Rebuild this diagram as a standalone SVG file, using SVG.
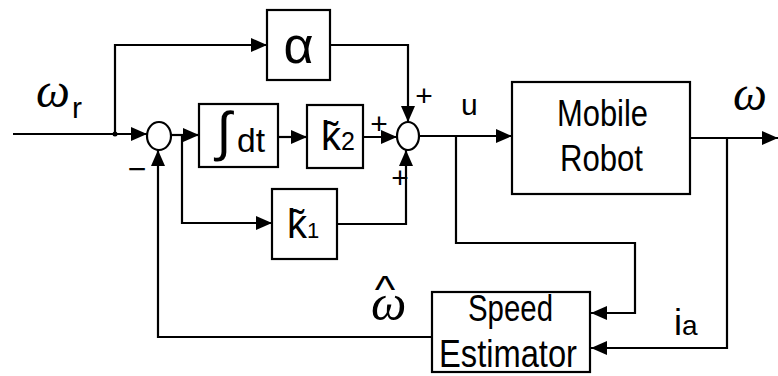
<svg xmlns="http://www.w3.org/2000/svg" width="778" height="376" viewBox="0 0 778 376">
<defs>
<marker id="arr" markerUnits="userSpaceOnUse" markerWidth="16" markerHeight="14" refX="16" refY="7" orient="auto">
<path d="M0,0 L16,7 L0,14 z" fill="#000"/>
</marker>
<style>
.box{fill:#fff;stroke:#000;stroke-width:2.2}
.ln{fill:none;stroke:#000;stroke-width:2.2;stroke-linejoin:miter}
.sans{font-family:"Liberation Sans",Arial,sans-serif;fill:#000}
.serif{font-family:"Liberation Serif","Times New Roman",serif;font-style:italic;fill:#000}
</style>
</defs>
<rect width="778" height="376" fill="#fff"/>
<g id="connectors">
<path class="ln" d="M13,134 H147" marker-end="url(#arr)"/>
<circle cx="115" cy="134" r="2.5" fill="#000"/>
<path class="ln" d="M115,134 V45 H267" marker-end="url(#arr)"/>
<path class="ln" d="M171,135 H199" marker-end="url(#arr)"/>
<path class="ln" d="M182,135 V223 H272" marker-end="url(#arr)"/>
<path class="ln" d="M278,137 H307" marker-end="url(#arr)"/>
<path class="ln" d="M363,137 H397" marker-end="url(#arr)"/>
<path class="ln" d="M330,45 H408 V122" marker-end="url(#arr)"/>
<path class="ln" d="M337,224 H406 V150" marker-end="url(#arr)"/>
<path class="ln" d="M419,136 H512" marker-end="url(#arr)"/>
<path class="ln" d="M456,136 V243 H635 V313 H591" marker-end="url(#arr)"/>
<path class="ln" d="M690,138 H778" marker-end="url(#arr)"/>
<path class="ln" d="M727,138 V348 H591" marker-end="url(#arr)"/>
<path class="ln" d="M432,337 H158 V150" marker-end="url(#arr)"/>
</g>
<g id="sum1">
<ellipse class="box" cx="159" cy="136" rx="12" ry="14"/>
<text class="sans" x="137" y="180" font-size="32" text-anchor="middle">−</text>
</g>
<g id="sum2">
<ellipse class="box" cx="408" cy="136" rx="11" ry="14"/>
<text class="sans" x="379" y="134" font-size="30" text-anchor="middle">+</text>
<text class="sans" x="424" y="106" font-size="30" text-anchor="middle">+</text>
<text class="sans" x="400" y="188" font-size="30" text-anchor="middle">+</text>
</g>
<g id="alpha">
<rect class="box" x="267" y="10" width="63" height="70"/>
<text class="sans" x="298.5" y="63" font-size="52" text-anchor="middle">α</text>
</g>
<g id="integrator">
<rect class="box" x="199" y="104" width="79" height="63"/>
<text class="sans" x="224" y="150" font-size="54" text-anchor="middle">∫</text>
<text class="sans" x="237" y="152" font-size="34" textLength="28" lengthAdjust="spacingAndGlyphs">dt</text>
</g>
<g id="k2">
<rect class="box" x="307" y="105" width="56" height="63"/>
<text class="sans" x="321" y="150" font-size="40">k̃<tspan font-size="25">2</tspan></text>
</g>
<g id="k1">
<rect class="box" x="272" y="189" width="65" height="70"/>
<text class="sans" x="287" y="238" font-size="40">k̃<tspan font-size="22">1</tspan></text>
</g>
<g id="mobile-robot">
<rect class="box" x="512" y="82" width="178" height="112"/>
<text class="sans" x="557" y="126" font-size="36" textLength="91" lengthAdjust="spacingAndGlyphs">Mobile</text>
<text class="sans" x="560" y="171" font-size="36" textLength="83" lengthAdjust="spacingAndGlyphs">Robot</text>
</g>
<g id="speed-estimator">
<rect class="box" x="432" y="292" width="158" height="80"/>
<text class="sans" x="468" y="321" font-size="36" textLength="85" lengthAdjust="spacingAndGlyphs">Speed</text>
<text class="sans" x="439" y="367" font-size="38" textLength="138" lengthAdjust="spacingAndGlyphs">Estimator</text>
</g>
<g id="labels">
<text class="serif" x="36" y="107" font-size="48">ω</text>
<text class="sans" x="72" y="118" font-size="30">r</text>
<text class="sans" x="461" y="115" font-size="30">u</text>
<text class="serif" x="733" y="110" font-size="48">ω</text>
<text class="serif" x="371" y="320" font-size="50">ω</text>
<text class="sans" x="385" y="303" font-size="38" text-anchor="middle" transform="translate(385,0) scale(1.15,1) translate(-385,0)">^</text>
<text class="sans" x="674" y="335" font-size="36">i<tspan font-size="28">a</tspan></text>
</g>
</svg>
